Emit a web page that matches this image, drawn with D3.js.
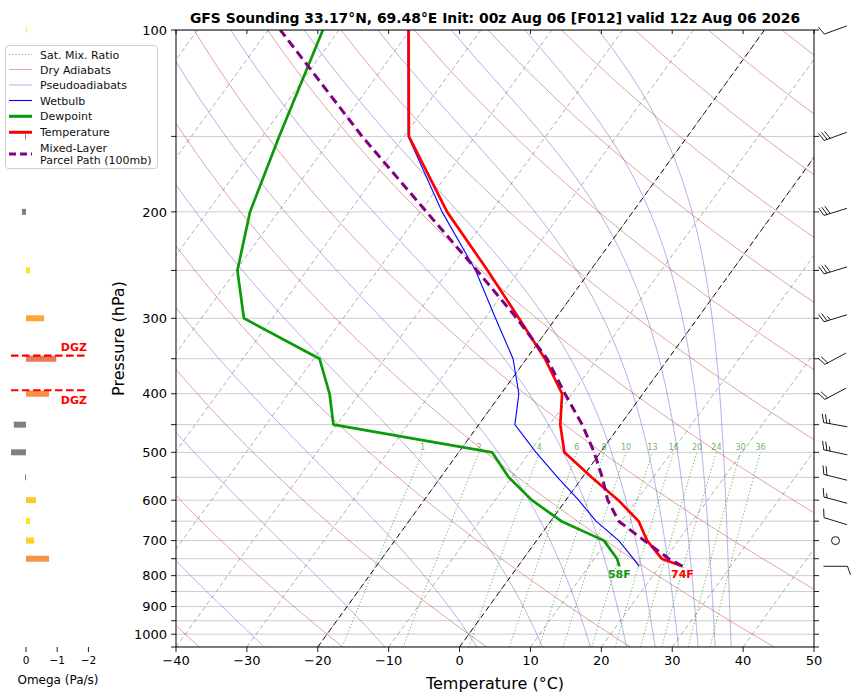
<!DOCTYPE html>
<html>
<head>
<meta charset="utf-8">
<script src="https://cdn.jsdelivr.net/npm/d3@7"></script>
<style>
  body { margin: 0; background: #fff; }
  text { font-family: "DejaVu Sans", sans-serif; }
</style>
</head>
<body>
<svg id="chart" width="857" height="698"></svg>
<script>
// ---- sounding (hPa, degC) ----
const pressure    = [772, 750, 700, 650, 600, 550, 500, 450, 400, 350, 300, 250, 200, 150, 100]
const temperature = [23.2, 19.5, 15.6, 12.4, 7.4, 1.3, -5.1, -8.5, -11.4, -17.4, -25.2, -34.5, -46.2, -59.3, -70.2]
const dewpoint    = [14.3, 13.2, 9.5, 1.5, -4.8, -10.4, -15.3, -40.5, -44.2, -49.2, -64.0, -69.8, -74.0, -77.6, -82.3]
const wetbulb     = [17.1, 15.5, 11.6, 6.4, 1.8, -3.5, -9.1, -14.9, -17.5, -21.9, -28.5, -36.2, -46.9, -59.4, -70.3]
const parcel      = [23.2, 20.5, 15.2, 9.6, 5.9, 2.8, -0.9, -5.4, -11.0, -17.1, -25.5, -36.0, -49.1, -65.9, -88.3]

// ---- winds ----
const barbPressure = [100, 150, 200, 250, 300, 350, 400, 450, 500, 550, 600, 650, 700, 772]
const barbDir      = [250, 250, 253, 253, 253, 242, 242, 280, 282, 284, 285, 287, 0, 90]
const barbSpeed    = [10, 30, 30, 30, 25, 20, 20, 25, 25, 20, 15, 10, 0, 10]

// ---- omega (Pa/s) ----
const omegaPressure = [100, 150, 200, 250, 300, 350, 400, 450, 500, 550, 600, 650, 700, 750]
const omegaValue    = [-0.03, 0.03, 0.13, -0.13, -0.58, -0.97, -0.74, 0.39, 0.48, 0.03, -0.32, -0.13, -0.26, -0.74]

// ---- background lines / ticks ----
const pressureTicks  = [100, 150, 200, 250, 300, 350, 400, 450, 500, 550, 600, 650, 700, 750, 800, 850, 900, 950, 1000, 1050]
const pressureLabels = [100, 200, 300, 400, 500, 600, 700, 800, 900, 1000]
const tempTicks      = [-40, -30, -20, -10, 0, 10, 20, 30, 40, 50]
const omegaTicks     = [0, -1, -2]
const mixRatios      = [1, 2, 4, 6, 8, 10, 13, 16, 20, 24, 30, 36]
const dryTheta       = [-80, -60, -40, -20, 0, 20, 40, 60, 80, 100, 120, 140, 160, 180, 200, 220, 240, 260]
const moistTheta     = [-50, -30, -10, 10, 30, 50, 70, 90, 110, 130, 150, 170]
const boldIsotherms  = [0, -20]
const dgzTemps       = [-12, -18]

const title = "GFS Sounding 33.17°N, 69.48°E Init: 00z Aug 06 [F012] valid 12z Aug 06 2026"

const svg = d3.select("#chart")
const L = 176, R = 814, T = 30, B = 647

const x = d3.scaleLinear().domain([-40, 50]).range([L, R])
const y = d3.scaleLog().domain([1050, 100]).range([B, T])
const skew = Math.tan(35 * Math.PI / 180) * (R - L) / (B - T)
const sx = (t, p) => x(t) + (B - y(p)) * skew

const Rd = 287.04, Cp = 1005.7, Lv = 2.501e6, eps = 0.622, kappa = Rd / Cp

function satVap(tc) { return 6.112 * Math.exp(17.67 * tc / (tc + 243.5)) }
function moistDTdp(tK, p) {
  const es = satVap(tK - 273.15)
  const rs = eps * es / (p - es)
  return (Rd * tK + Lv * rs) / (p * (Cp + Lv * Lv * rs * eps / (Rd * tK * tK)))
}
function dewFromMix(w, p) {
  const e = (w / 1000) * p / (eps + w / 1000)
  const l = Math.log(e / 6.112)
  return 243.5 * l / (17.67 - l)
}

const skewLine = d3.line().x(d => sx(d[0], d[1])).y(d => y(d[1]))

svg.append("rect").attr("width", 857).attr("height", 698).attr("fill", "#fff")

svg.append("defs").append("clipPath").attr("id", "plotClip")
  .append("rect").attr("x", L).attr("y", T).attr("width", R - L).attr("height", B - T)

// ---- legend ----
const legend = svg.append("g")
legend.append("rect")
  .attr("x", 5.5).attr("y", 45.5).attr("width", 152).attr("height", 123).attr("rx", 3)
  .attr("fill", "#fff").attr("fill-opacity", 0.8).attr("stroke", "#d0d0d0")

const legendItems = [
  { label: ["Sat. Mix. Ratio"], y: 54.5, stroke: "#1a8f1a", width: 0.9, dash: "1.2,2", op: 0.7 },
  { label: ["Dry Adiabats"], y: 69.5, stroke: "#c83c3c", width: 0.9, dash: null, op: 0.5 },
  { label: ["Pseudoadiabats"], y: 85, stroke: "#3c3cc8", width: 0.9, dash: null, op: 0.45 },
  { label: ["Wetbulb"], y: 100.5, stroke: "#0000ff", width: 1.1, dash: null, op: 1 },
  { label: ["Dewpoint"], y: 116.3, stroke: "#0a9a0a", width: 3, dash: null, op: 1 },
  { label: ["Temperature"], y: 132.3, stroke: "#ff0000", width: 3, dash: null, op: 1 },
  { label: ["Mixed-Layer", "Parcel Path (100mb)"], y: 154, stroke: "#800080", width: 3, dash: "7,4", op: 1 }
]

for (const item of legendItems) {
  legend.append("line")
    .attr("x1", 9).attr("x2", 32).attr("y1", item.y).attr("y2", item.y)
    .attr("stroke", item.stroke).attr("stroke-width", item.width)
    .attr("stroke-opacity", item.op)
    .attr("stroke-dasharray", item.dash)
  const n = item.label.length
  item.label.forEach((t, i) => {
    legend.append("text")
      .attr("x", 40)
      .attr("y", item.y + 4 + (i - (n - 1) / 2) * 12)
      .attr("font-size", "11px")
      .attr("fill", "#111")
      .text(t)
  })
}

// ---- omega panel ----
const xo = d3.scaleLinear().domain([0, -1]).range([26, 57.2])
const omegaColor = (v) => v >= 0 ? "#808080" : d3.interpolatePlasma(Math.max(0, 1 - 0.35 * -v))

svg.append("g")
  .selectAll("rect")
  .data(omegaValue)
  .join("rect")
  .attr("x", (d) => Math.min(xo(0), xo(d)))
  .attr("width", (d) => Math.max(Math.abs(xo(d) - xo(0)), 0.8))
  .attr("y", (d, i) => y(omegaPressure[i]) - 3)
  .attr("height", 6)
  .attr("fill", (d) => omegaColor(d))

omegaTicks.forEach((t) => {
  svg.append("line")
    .attr("x1", xo(t)).attr("x2", xo(t)).attr("y1", B).attr("y2", B + 5)
    .attr("stroke", "#000").attr("stroke-width", 0.9)
  svg.append("text")
    .attr("x", xo(t)).attr("y", B + 16.5)
    .attr("text-anchor", "middle").attr("font-size", "10.5px")
    .text(d3.format("d")(t))
})
svg.append("text")
  .attr("x", 58).attr("y", 684)
  .attr("text-anchor", "middle").attr("font-size", "12px")
  .text("Omega (Pa/s)")

// DGZ bounds from the temperature profile
function pressureAtTemp(target) {
  for (let i = 0; i < pressure.length - 1; i++) {
    const t0 = temperature[i], t1 = temperature[i + 1]
    if ((t0 - target) * (t1 - target) <= 0 && t0 !== t1) {
      const f = (target - t0) / (t1 - t0)
      return Math.exp(Math.log(pressure[i]) + f * (Math.log(pressure[i + 1]) - Math.log(pressure[i])))
    }
  }
  return null
}
dgzTemps.forEach((t, i) => {
  const p = pressureAtTemp(t)
  svg.append("line")
    .attr("x1", 11).attr("x2", 87).attr("y1", y(p)).attr("y2", y(p))
    .attr("stroke", "#ff0000").attr("stroke-width", 2.2).attr("stroke-dasharray", "7.5,3.5")
  svg.append("text")
    .attr("x", 87).attr("y", i === 0 ? y(p) + 14 : y(p) - 4.5)
    .attr("text-anchor", "end").attr("font-size", "11px").attr("font-weight", "bold")
    .attr("fill", "#ff0000")
    .text("DGZ")
})

// ---- main skew-T ----
const plot = svg.append("g").attr("clip-path", "url(#plotClip)")

plot.append("g")
  .selectAll("line")
  .data(pressureTicks)
  .join("line")
  .attr("x1", L).attr("x2", R)
  .attr("y1", (d) => y(d)).attr("y2", (d) => y(d))
  .attr("stroke", "#cccccc").attr("stroke-width", 1)

// isotherms
const isoTemps = d3.range(-150, 51, 10)
plot.append("g")
  .selectAll("path")
  .data(isoTemps)
  .join("path")
  .attr("d", (t) => skewLine([[t, 1050], [t, 100]]))
  .attr("fill", "none").attr("stroke", "#9a9a9a").attr("stroke-width", 0.8)
  .attr("stroke-dasharray", "4.5,3")

// dry adiabats
const dryLevels = d3.range(1050, 99, -10)
plot.append("g")
  .selectAll("path")
  .data(dryTheta)
  .join("path")
  .attr("d", (th) => skewLine(dryLevels.map((p) => [(th + 273.15) * Math.pow(p / 1000, kappa) - 273.15, p])))
  .attr("fill", "none").attr("stroke", "#c83c3c").attr("stroke-opacity", 0.6).attr("stroke-width", 0.8)

// pseudoadiabats, integrated down from 100 hPa
function moistLine(thC) {
  let tK = (thC + 273.15) * Math.pow(0.1, kappa), p = 100
  const dp = 2
  const pts = [[tK - 273.15, p]]
  while (p < 1050) {
    const k1 = moistDTdp(tK, p)
    const k2 = moistDTdp(tK + k1 * dp / 2, p + dp / 2)
    const k3 = moistDTdp(tK + k2 * dp / 2, p + dp / 2)
    const k4 = moistDTdp(tK + k3 * dp, p + dp)
    tK += dp * (k1 + 2 * k2 + 2 * k3 + k4) / 6
    p += dp
    pts.push([tK - 273.15, p])
  }
  return pts
}
plot.append("g")
  .selectAll("path")
  .data(moistTheta)
  .join("path")
  .attr("d", (th) => skewLine(moistLine(th)))
  .attr("fill", "none").attr("stroke", "#3c3cc8").attr("stroke-opacity", 0.5).attr("stroke-width", 0.8)

// mixing ratio lines
const mixLevels = d3.range(1050, 499, -10)
plot.append("g")
  .selectAll("path")
  .data(mixRatios)
  .join("path")
  .attr("d", (w) => skewLine(mixLevels.map((p) => [dewFromMix(w, p), p])))
  .attr("fill", "none").attr("stroke", "#1a8f1a").attr("stroke-opacity", 0.75)
  .attr("stroke-width", 0.9).attr("stroke-dasharray", "1.2,2.2")

svg.append("g")
  .selectAll("text")
  .data(mixRatios)
  .join("text")
  .attr("x", (w) => sx(dewFromMix(w, 500), 500))
  .attr("y", y(500) - 2)
  .attr("text-anchor", "middle").attr("font-size", "8px")
  .attr("fill", "#1a8f1a").attr("fill-opacity", 0.7)
  .text((w) => w)

// highlighted isotherms
plot.append("g")
  .selectAll("path")
  .data(boldIsotherms)
  .join("path")
  .attr("d", (t) => skewLine([[t, 1050], [t, 100]]))
  .attr("fill", "none").attr("stroke", "#000").attr("stroke-width", 0.9)
  .attr("stroke-dasharray", "5.5,3.5")

// profiles
const profile = (vals) => skewLine(vals.map((t, i) => [t, pressure[i]]))

plot.append("path").attr("d", profile(wetbulb))
  .attr("fill", "none").attr("stroke", "#0000ff").attr("stroke-width", 1.1)
plot.append("path").attr("d", profile(dewpoint))
  .attr("fill", "none").attr("stroke", "#0a9a0a").attr("stroke-width", 2.7).attr("stroke-linejoin", "round")
plot.append("path").attr("d", profile(temperature))
  .attr("fill", "none").attr("stroke", "#ff0000").attr("stroke-width", 2.7).attr("stroke-linejoin", "round")
plot.append("path").attr("d", profile(parcel))
  .attr("fill", "none").attr("stroke", "#800080").attr("stroke-width", 3)
  .attr("stroke-dasharray", "9,5")

const toF = (c) => Math.round(c * 9 / 5 + 32) + "F"
svg.append("text")
  .attr("x", sx(temperature[0], pressure[0])).attr("y", y(pressure[0]) + 12)
  .attr("text-anchor", "middle").attr("font-size", "11px").attr("font-weight", "bold")
  .attr("fill", "#ff0000").text(toF(temperature[0]))
svg.append("text")
  .attr("x", sx(dewpoint[0], pressure[0])).attr("y", y(pressure[0]) + 12)
  .attr("text-anchor", "middle").attr("font-size", "11px").attr("font-weight", "bold")
  .attr("fill", "#0a9a0a").text(toF(dewpoint[0]))

// frame and ticks
svg.append("rect")
  .attr("x", L).attr("y", T).attr("width", R - L).attr("height", B - T)
  .attr("fill", "none").attr("stroke", "#000").attr("stroke-width", 1)

const axes = svg.append("g").attr("stroke", "#000").attr("stroke-width", 0.9)
pressureTicks.forEach((p) => {
  axes.append("line").attr("x1", L - 5).attr("x2", L).attr("y1", y(p)).attr("y2", y(p))
  axes.append("line").attr("x1", R).attr("x2", R + 5).attr("y1", y(p)).attr("y2", y(p))
})
tempTicks.forEach((t) => {
  axes.append("line").attr("x1", x(t)).attr("x2", x(t)).attr("y1", B).attr("y2", B + 5)
  axes.append("line").attr("x1", x(t)).attr("x2", x(t)).attr("y1", T).attr("y2", T + 4)
})

svg.append("g")
  .selectAll("text")
  .data(pressureLabels)
  .join("text")
  .attr("x", L - 9).attr("y", (d) => y(d) + 4.7)
  .attr("text-anchor", "end").attr("font-size", "13px")
  .text((d) => d)

svg.append("g")
  .selectAll("text")
  .data(tempTicks)
  .join("text")
  .attr("x", (d) => x(d)).attr("y", B + 18)
  .attr("text-anchor", "middle").attr("font-size", "13px")
  .text((d) => d3.format("d")(d))

svg.append("text")
  .attr("x", (L + R) / 2).attr("y", 689)
  .attr("text-anchor", "middle").attr("font-size", "16px")
  .text("Temperature (°C)")

svg.append("text")
  .attr("transform", `translate(124,${(T + B) / 2}) rotate(-90)`)
  .attr("text-anchor", "middle").attr("font-size", "16px")
  .text("Pressure (hPa)")

svg.append("text")
  .attr("x", (L + R) / 2).attr("y", 23)
  .attr("text-anchor", "middle").attr("font-size", "13.9px").attr("font-weight", "bold")
  .text(title)

// ---- wind barbs ----
function barbPath(cx, cy, dir, speed) {
  const len = 24, full = 8.5, sweep = 3, gap = 3.2
  const rad = dir * Math.PI / 180
  const ux = Math.sin(rad), uy = -Math.cos(rad)
  const nx = -uy, ny = ux
  const tx = cx + ux * len / 2, ty = cy + uy * len / 2
  let d = `M${cx - ux * len / 2},${cy - uy * len / 2}L${tx},${ty}`
  const s = Math.round(speed / 5) * 5
  const nFull = Math.floor(s / 10)
  const half = s % 10 >= 5
  let off = 0
  for (let i = 0; i < nFull; i++) {
    const bx = tx - ux * off, by = ty - uy * off
    d += `M${bx},${by}L${bx + nx * full + ux * sweep},${by + ny * full + uy * sweep}`
    off += gap
  }
  if (half) {
    if (nFull === 0) off = gap
    const bx = tx - ux * off, by = ty - uy * off
    d += `M${bx},${by}L${bx + nx * full / 2 + ux * sweep / 2},${by + ny * full / 2 + uy * sweep / 2}`
  }
  return d
}

const barbX = 835.5
barbPressure.forEach((p, i) => {
  if (barbSpeed[i] === 0) {
    svg.append("circle")
      .attr("cx", barbX).attr("cy", y(p)).attr("r", 4)
      .attr("fill", "none").attr("stroke", "#000").attr("stroke-width", 0.9)
  } else {
    svg.append("path")
      .attr("d", barbPath(barbX, y(p), barbDir[i], barbSpeed[i]))
      .attr("fill", "none").attr("stroke", "#000").attr("stroke-width", 0.9)
  }
})
</script>
</body>
</html>
